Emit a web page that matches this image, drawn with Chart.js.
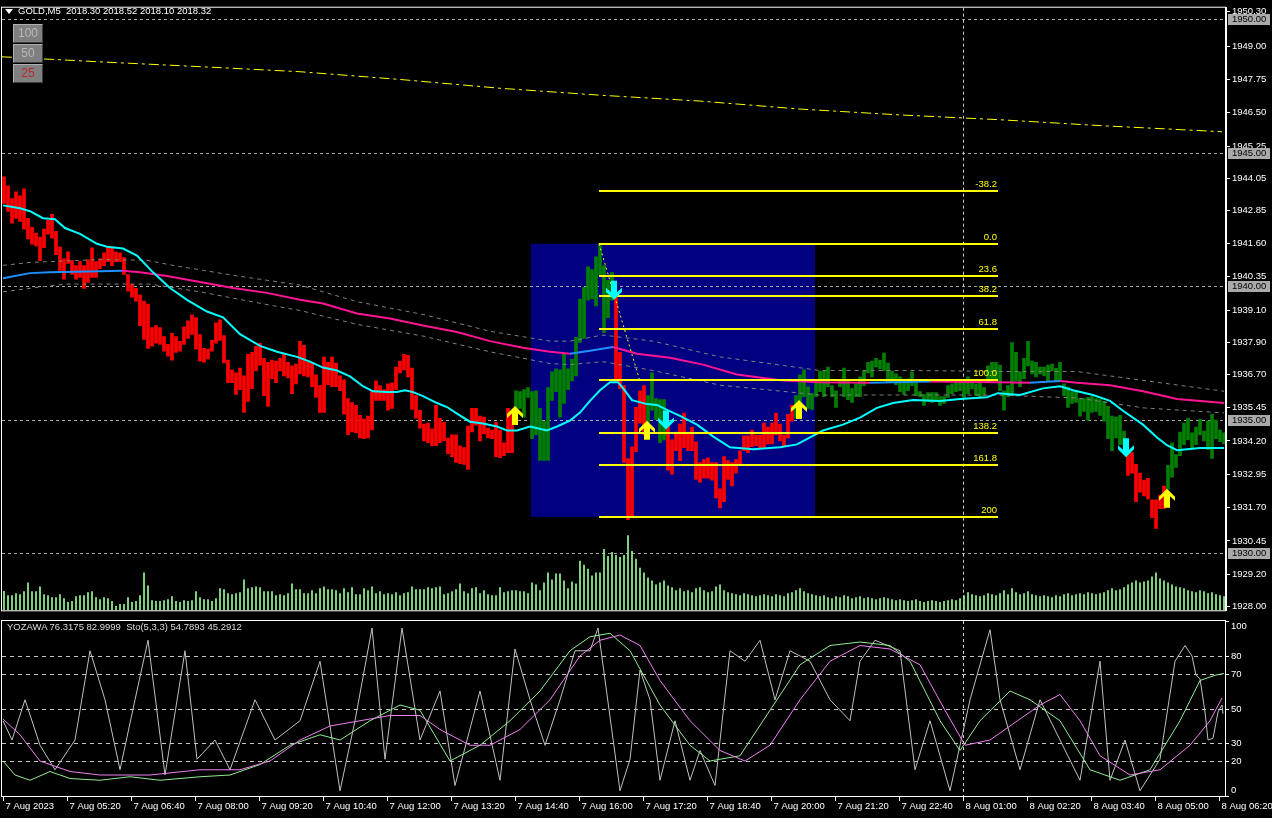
<!DOCTYPE html>
<html lang="en">
<head>
<meta charset="UTF-8">
<title>GOLD,M5</title>
<script src="https://cdn.jsdelivr.net/npm/chart.js"></script>
<style>
  body { margin: 0; background: #000; width: 1272px; height: 818px; overflow: hidden; position: relative; font-family: "Liberation Sans", Arial, sans-serif; }
  canvas { position: absolute; left: 0; }
  #mainChart { top: 0; }
  #oscChart { top: 618px; }
  #title { position: absolute; left: 18px; top: 5px; color: #fff; font-size: 9.5px; line-height: 12px; white-space: pre; }
  #tri { position: absolute; left: 5px; top: 9px; width: 0; height: 0; border-left: 4px solid transparent; border-right: 4px solid transparent; border-top: 5px solid #fff; }
  .btn { position: absolute; left: 13px; width: 28px; height: 17px; background: #808080; border: 1px solid; border-color: #b0b0b0 #404040 #404040 #b0b0b0; color: #b8b8b8; font-size: 12px; line-height: 17px; text-align: center; }
  .btn.red { color: #c02828; }
  #oscTitle { position: absolute; left: 7px; top: 621px; color: #dcdcdc; font-size: 9.5px; line-height: 12px; white-space: pre; }
</style>
</head>
<body>
<canvas id="mainChart" width="1272" height="618"></canvas>
<canvas id="oscChart" width="1272" height="200"></canvas>
<div id="tri"></div>
<div id="title">GOLD,M5  2018.30 2018.52 2018.10 2018.32</div>
<div class="btn" style="top:24px">100</div>
<div class="btn" style="top:44px">50</div>
<div class="btn red" style="top:64px">25</div>
<div id="oscTitle">YOZAWA 76.3175 82.9999  Sto(5,3,3) 54.7893 45.2912</div>

<script>
// ---- data ----
const timeLabels = ['7 Aug 2023', '7 Aug 05:20', '7 Aug 06:40', '7 Aug 08:00', '7 Aug 09:20', '7 Aug 10:40',
    '7 Aug 12:00', '7 Aug 13:20', '7 Aug 14:40', '7 Aug 16:00', '7 Aug 17:20', '7 Aug 18:40', '7 Aug 20:00',
    '7 Aug 21:20', '7 Aug 22:40', '8 Aug 01:00', '8 Aug 02:20', '8 Aug 03:40', '8 Aug 05:00', '8 Aug 06:20'];
const labelStep = 16;   // one time label every 16 bars

const opens = [
    1944.10,1943.76,1943.28,1943.54,1943.39,1943.65,1942.54,1942.21,1941.99,1941.84,
    1942.14,1942.47,1942.69,1942.06,1941.47,1941.03,1941.29,1940.96,1940.77,1940.92,
    1940.77,1940.99,1941.44,1940.92,1941.03,1941.25,1941.47,1941.47,1941.29,1941.25,
    1941.07,1940.44,1940.07,1939.92,1939.67,1939.44,1939.33,1938.45,1938.52,1938.45,
    1938.11,1937.82,1938.23,1938.11,1937.93,1938.48,1938.70,1938.93,1938.82,1938.19,
    1937.67,1937.64,1937.97,1938.63,1938.74,1938.15,1937.23,1936.86,1936.75,1936.93,
    1936.64,1937.45,1937.52,1937.75,1937.86,1937.30,1937.15,1937.23,1937.19,1937.30,
    1937.45,1937.15,1937.01,1937.08,1937.93,1937.78,1937.19,1937.15,1936.68,1936.27,
    1937.34,1937.15,1937.34,1937.12,1936.64,1936.49,1935.79,1935.64,1935.53,1935.16,
    1935.02,1935.13,1936.08,1936.45,1936.27,1936.12,1936.34,1936.38,1936.97,1937.19,
    1937.45,1937.41,1936.93,1935.90,1935.35,1934.83,1934.87,1934.65,1935.53,1935.05,
    1934.90,1934.31,1934.43,1934.43,1934.02,1933.95,1934.76,1935.42,1935.42,1935.13,
    1935.09,1934.68,1934.61,1934.90,1934.61,1934.13,1935.42,1935.24,1935.09,1935.42,
    1935.09,1935.83,1934.28,1934.43,1933.47,1933.47,1933.47,1935.72,1936.05,1935.09,
    1935.61,1936.12,1936.45,1936.64,1937.89,1938.04,1939.48,1939.52,1939.26,1940.40,
    1938.26,1938.82,1939.48,1939.59,1937.52,1936.27,1933.54,1933.98,1935.46,1936.08,
    1936.27,1934.87,1935.35,1935.01,1934.13,1934.24,1934.76,1934.24,1934.53,1934.83,
    1935.24,1934.53,1934.72,1934.17,1933.39,1933.50,1933.57,1933.39,1933.39,1932.40,
    1933.61,1933.46,1933.39,1933.50,1933.83,1934.39,1934.39,1934.61,1934.42,1934.42,
    1934.87,1934.72,1934.87,1935.24,1934.83,1934.42,1935.20,1935.53,1935.05,1935.35,
    1935.86,1935.42,1935.38,1935.86,1936.05,1935.86,1936.23,1935.86,1935.46,1936.23,
    1935.86,1935.75,1935.64,1935.86,1935.86,1936.27,1936.75,1936.60,1936.97,1936.90,
    1936.82,1936.42,1936.38,1936.31,1936.05,1935.94,1936.08,1936.27,1935.90,1935.86,
    1935.53,1935.68,1935.64,1935.68,1935.53,1935.61,1935.83,1935.97,1936.05,1936.08,
    1935.83,1935.97,1936.16,1935.90,1935.86,1935.90,1936.38,1936.42,1936.53,1936.08,
    1935.35,1935.86,1935.90,1936.45,1936.23,1936.53,1937.01,1936.71,1936.60,1936.71,
    1936.64,1936.45,1936.82,1936.42,1936.42,1935.90,1935.46,1935.61,1935.64,1935.13,
    1935.31,1934.98,1935.27,1935.31,1935.16,1934.94,1934.28,1933.83,1934.31,1934.06,
    1934.06,1933.72,1933.76,1933.32,1932.99,1932.73,1932.80,1931.99,1931.99,1932.17,
    1932.51,1932.39,1932.84,1933.21,1933.65,1934.06,1934.24,1933.95,1934.06,1934.42,
    1934.20,1933.87,1933.54,1934.28,1934.17,1934.09
];
const closes = [
    1943.10,1942.80,1942.36,1942.54,1942.43,1942.14,1941.77,1941.58,1941.51,1940.96,
    1941.44,1941.95,1941.80,1941.18,1940.59,1940.26,1940.85,1940.44,1940.26,1940.33,
    1939.92,1940.14,1940.33,1940.33,1940.66,1940.77,1940.92,1940.77,1940.92,1940.92,
    1940.44,1939.81,1939.59,1939.44,1938.52,1938.00,1937.67,1937.75,1937.86,1937.82,
    1937.56,1937.38,1937.23,1937.52,1937.56,1937.82,1938.04,1938.19,1937.64,1937.19,
    1937.15,1937.27,1937.56,1937.86,1937.97,1937.12,1936.38,1936.38,1935.94,1936.12,
    1935.27,1935.68,1936.16,1936.82,1937.04,1935.90,1935.49,1936.53,1936.38,1936.82,
    1936.64,1936.56,1935.97,1936.34,1936.71,1936.64,1936.60,1936.23,1935.83,1935.27,
    1935.27,1936.31,1936.23,1936.23,1936.08,1935.20,1934.43,1934.54,1934.50,1934.31,
    1934.28,1934.31,1934.61,1935.72,1935.72,1935.72,1935.35,1935.42,1936.12,1936.75,
    1936.86,1936.60,1935.38,1935.05,1934.68,1934.20,1934.13,1934.02,1934.02,1934.13,
    1934.20,1933.72,1933.61,1933.39,1933.35,1933.32,1933.13,1934.54,1934.79,1934.20,
    1934.46,1934.31,1934.28,1933.61,1933.57,1933.65,1933.76,1933.76,1936.08,1936.05,
    1936.12,1936.20,1936.05,1936.08,1935.42,1934.94,1936.20,1936.79,1936.90,1936.86,
    1937.45,1936.90,1937.27,1938.08,1939.52,1939.96,1940.73,1940.62,1941.10,1941.58,
    1940.77,1940.22,1940.51,1936.42,1936.16,1933.39,1931.25,1931.36,1933.80,1934.87,
    1934.42,1935.90,1936.75,1935.79,1935.75,1935.75,1933.10,1932.95,1933.83,1933.46,
    1933.95,1933.83,1933.83,1932.76,1932.65,1932.80,1932.80,1932.73,1932.06,1931.69,
    1931.92,1932.76,1932.51,1932.99,1933.32,1933.83,1933.76,1933.98,1934.02,1933.95,
    1933.95,1934.09,1934.09,1934.42,1934.20,1933.98,1934.31,1934.94,1935.90,1936.68,
    1936.86,1936.23,1935.97,1936.42,1936.82,1936.82,1936.97,1936.27,1936.08,1936.45,
    1936.93,1936.45,1936.16,1936.34,1936.60,1936.82,1937.15,1937.19,1937.30,1937.23,
    1937.49,1937.12,1936.82,1936.71,1936.60,1936.42,1936.53,1936.79,1936.42,1936.05,
    1935.94,1936.01,1936.01,1936.01,1935.86,1935.86,1936.27,1936.34,1936.45,1936.42,
    1936.38,1936.60,1936.45,1936.34,1936.38,1936.20,1937.01,1937.15,1937.15,1937.04,
    1936.08,1936.27,1937.89,1937.52,1936.79,1937.30,1937.93,1937.19,1937.15,1936.97,
    1936.97,1937.04,1937.08,1936.93,1937.15,1936.34,1936.23,1936.05,1936.08,1935.79,
    1935.79,1935.83,1935.86,1935.79,1935.75,1935.68,1935.50,1935.13,1935.09,1935.16,
    1934.57,1932.91,1932.99,1931.92,1932.28,1932.14,1932.03,1931.32,1930.92,1931.66,
    1931.66,1933.28,1934.13,1933.69,1934.53,1934.87,1935.05,1934.50,1934.72,1935.01,
    1934.57,1934.94,1935.20,1934.98,1934.61,1934.50
];
const volumes = [
    193,150,150,170,160,190,280,190,190,240,160,150,130,130,160,120,80,90,140,150,
    150,180,190,130,110,130,120,90,40,60,60,130,80,90,150,380,250,100,90,90,
    100,110,140,90,80,100,90,100,190,130,110,110,90,120,220,210,170,160,170,180,
    310,220,230,240,230,190,190,190,150,160,150,170,270,210,210,170,170,200,170,220,
    240,210,210,200,170,220,180,230,160,160,220,200,240,170,190,160,170,160,180,150,
    170,180,240,210,210,210,230,220,230,240,160,170,190,210,270,190,170,220,230,170,
    200,160,150,150,230,180,190,200,200,190,190,170,280,260,200,280,380,310,370,370,
    300,220,290,270,500,460,420,350,380,380,620,550,590,560,540,560,760,600,520,430,
    380,330,300,260,280,300,250,230,200,220,190,200,180,220,230,200,180,190,240,260,
    200,180,170,160,150,170,160,150,140,150,160,150,140,160,150,140,170,180,200,220,
    190,170,160,150,140,150,130,120,140,130,150,140,120,130,140,120,130,120,110,120,
    130,120,110,100,110,100,90,100,110,90,80,90,100,90,80,90,100,110,100,120,
    150,180,160,150,140,150,170,160,150,170,200,160,220,180,160,170,190,160,150,140,
    150,140,130,150,140,160,170,150,160,170,160,180,170,160,170,180,200,220,200,210,
    230,260,280,300,280,290,300,340,380,320,300,280,260,240,230,220,200,190,180,200,
    190,170,180,160,150,140
];

// moving averages, as [bar, price] vertices
const fastMA = [[-0.25,1943.03],[4,1942.92],[6.5,1942.81],[9.75,1942.55],[12.75,1942.51],[15.25,1942.18],[19,1941.96],
    [23.25,1941.59],[25.75,1941.48],[29.75,1941.41],[33.25,1941.15],[37.25,1940.52],[41.5,1939.93],[45.75,1939.49],
    [50.75,1939.05],[54.75,1938.83],[59,1938.20],[64,1937.76],[68.25,1937.54],[73.25,1937.35],[76.5,1937.17],
    [79.75,1936.95],[83.25,1936.84],[86.5,1936.62],[89.75,1936.25],[92.25,1936.06],[95.75,1936.03],[98.25,1936.03],
    [100.25,1936.10],[102.25,1936.03],[104.75,1935.88],[108.25,1935.62],[110.75,1935.47],[113.25,1935.22],
    [116.5,1934.92],[119.75,1934.85],[123.25,1934.74],[125.75,1934.59],[128.25,1934.59],[131.5,1934.74],
    [135.75,1934.59],[138.25,1934.74],[141.5,1934.96],[144,1935.26],[146.5,1935.70],[149,1936.10],[151.5,1936.40],
    [153.5,1936.40],[154.75,1936.18],[157,1935.73],[160.75,1935.58],[163.25,1935.55],[165.75,1935.36],[169,1935.14],
    [173.25,1934.81],[177.25,1934.37],[181.5,1933.96],[187.25,1933.89],[194,1933.96],[198.25,1934.07],[201.5,1934.33],
    [204.75,1934.59],[209.75,1934.81],[214,1935.07],[218.25,1935.44],[222.25,1935.62],[227.25,1935.73],[234,1935.70],
    [239,1935.77],[245.75,1935.84],[248.5,1935.99],[254,1935.92],[259.75,1936.17],[264,1936.25],[267.25,1936.10],
    [272.25,1935.92],[276.5,1935.70],[279.75,1935.33],[284.75,1934.81],[288.25,1934.33],[290.75,1934.04],
    [293.25,1933.85],[299,1933.93],[305,1933.93]];
const slowMA = [[-0.25,1940.30],[6.5,1940.49],[11.5,1940.52],[24,1940.56],[29.5,1940.58],[34,1940.52],[40.75,1940.38],
    [49,1940.16],[57.25,1939.93],[65.75,1939.75],[74,1939.49],[79.75,1939.35],[88.25,1938.98],[96.5,1938.79],
    [104.75,1938.53],[113.25,1938.28],[121.5,1937.94],[129.75,1937.69],[136.5,1937.54],[141.5,1937.47],
    [146.5,1937.58],[152.25,1937.72],[158.25,1937.47],[166.5,1937.32],[174.75,1937.06],[183.25,1936.69],
    [194,1936.47],[204,1936.40],[216.5,1936.38],[231.5,1936.43],[248.25,1936.40],[256.5,1936.38],[264,1936.45],
    [268.25,1936.38],[276.5,1936.29],[284.75,1936.06],[293.25,1935.77],[305,1935.62]];
const envUpper = [[-0.25,1940.78],[6.5,1940.89],[24,1941.00],[35.75,1940.97],[42.25,1940.78],[57.25,1940.41],
    [74,1940.04],[88.25,1939.42],[104.75,1938.94],[121.5,1938.31],[136.5,1937.94],[141.5,1937.94],[149.75,1938.17],
    [162.25,1937.94],[179,1937.35],[204,1936.84],[226.5,1936.84],[251.5,1936.80],[268.25,1936.80],[284.75,1936.47],
    [305,1936.06]];
const envLower = [[-0.25,1939.79],[9,1939.97],[15.75,1940.08],[36.5,1940.08],[49,1939.79],[65.75,1939.31],
    [74,1939.09],[88.25,1938.57],[104.75,1938.13],[121.5,1937.54],[136.5,1937.10],[141.5,1937.06],[149.75,1937.17],
    [162.25,1936.84],[179,1936.29],[204,1935.92],[226.5,1935.92],[248.25,1935.92],[268.25,1935.81],[284.75,1935.44],
    [305,1935.25]];
const longMA = [[-0.5,1948.60],[24,1948.41],[49,1948.23],[74,1948.04],[99,1947.75],[124,1947.42],[149,1947.16],
    [174,1946.94],[199,1946.64],[224,1946.42],[249,1946.24],[274,1946.02],[304.5,1945.79]];

// fibonacci, rectangle, horizontal lines, signals
const fibLevels = ['-38.2', '0.0', '23.6', '38.2', '61.8', '100.0', '138.2', '161.8', '200'];
const fibPrices = [1943.55, 1941.59, 1940.37, 1939.63, 1938.41, 1936.47, 1934.48, 1933.30, 1931.35];
const fibBars = [148.75, 248.5];
const fibTrend = [[148.75, 1941.59], [159, 1936.43]];
const rectBars = [131.75, 202.75];
const rectPrices = [1941.59, 1931.35];
const hLinePrices = [1950, 1945, 1940, 1935, 1930];
const dayBreak = 239.75;
const upArrowBars = [127.75, 160.75, 198.75, 290.75];
const upArrowPrices = [1935.51, 1934.96, 1935.73, 1932.41];
const downArrowBars = [152.5, 165.5, 280.5];
const downArrowPrices = [1939.49, 1934.63, 1933.59];
const priceTicks = [1950.30, 1949.00, 1947.75, 1946.50, 1945.25, 1944.05, 1942.85, 1941.60, 1940.35, 1939.10,
    1937.90, 1936.70, 1935.45, 1934.20, 1932.95, 1931.70, 1930.45, 1929.20, 1928.00];

// oscillator window, [bar, value] vertices
const oscLevels = [100, 80, 70, 50, 30, 20, 0];
const yozawa = [[-0.25,43],[2,32],[5.25,55],[9,29],[12.75,15],[17.75,32],[21.5,83],[25.25,55],[29,15],[32.75,55],
    [36,89],[40.25,12],[45.25,83],[48.25,21],[52.75,32],[56.5,15],[62.75,55],[67.75,32],[74,43],[79,77],[84,3],
    [87.75,43],[92,96],[95.25,21],[99.5,96],[104,32],[109,60],[112.75,6],[119,60],[124,9],[127.75,84],[131.5,55],
    [135.25,29],[139,55],[142.75,83],[146.5,83],[148.5,96],[154,3],[156.5,21],[159,72],[161.5,55],[164,9],[167.75,43],
    [171.5,9],[174,26],[177.75,6],[181.5,83],[185.25,77],[189,89],[192.75,55],[196.5,83],[201.5,77],[206.5,55],
    [211.5,43],[214,77],[217.75,89],[224,83],[227.75,15],[231.5,43],[236.5,3],[241.5,55],[246.5,95],[249,55],
    [254,15],[259,55],[264,32],[269,9],[274,77],[276.5,9],[280.25,32],[284,3],[289,21],[292.75,77],[295.25,86],
    [297,80],[298,69],[299,67],[300.25,48],[301,32],[302.25,33],[303.5,48],[304.5,52],[304.75,47]];
const stochMain = [[-0.25,20],[2.75,12],[6.5,9],[11.5,14],[16.5,10],[24,9],[31.5,11],[39,9],[49,11],[56.5,12],
    [64,18],[71.5,29],[79,35],[84,32],[91.5,43],[99,52],[104,49],[111.5,20],[119,29],[126.5,43],[134,60],[141.5,83],
    [146.5,91],[151.5,93],[156.5,83],[164,52],[171.5,29],[176.5,20],[184,23],[191.5,49],[199,75],[206.5,86],[214,88],
    [221.5,86],[226.5,77],[234,43],[239,26],[244,43],[251.5,60],[256.5,55],[264,43],[271.5,15],[279,9],[286.5,15],
    [294,43],[299,66],[302.75,69],[305,70]];
const stochSignal = [[-0.25,44],[4,35],[9,20],[16.5,14],[24,12],[36.5,12],[49,15],[59,15],[66.5,20],[74,32],
    [81.5,40],[89,43],[96.5,46],[104,46],[109,38],[116.5,29],[121.5,29],[129,38],[136.5,55],[144,80],[149,89],
    [154,92],[159,86],[164,66],[171.5,43],[179,26],[185.25,20],[191.5,29],[199,55],[206.5,77],[214,86],[221.5,84],
    [229,75],[235.25,49],[240.25,29],[246.5,32],[251.5,40],[259,52],[264,58],[269,43],[274,23],[281.5,12],[289,15],
    [296.5,29],[301.5,43],[304.5,56]];

// ---- chart ----
Chart.defaults.font.family = '"Liberation Sans", Arial, sans-serif';
Chart.defaults.font.size = 9.5;
Chart.defaults.color = '#ffffff';

const xMin = -0.5, xMax = opens.length - 0.5;
const pts = arr => arr.map(([x, y]) => ({ x, y }));

function lineSet(points, color, width, dash, order) {
    return { type: 'line', data: pts(points), borderColor: color, borderWidth: width, borderDash: dash || [],
             pointRadius: 0, tension: 0, fill: false, order: order };
}

function drawArrow(ctx, px, py, up, color) {
    const s = up ? 1 : -1;
    const shape = [[0,0],[8,8],[8,12],[3,7.5],[3,19],[-3,19],[-3,7.5],[-8,12],[-8,8]];
    ctx.beginPath();
    shape.forEach(([dx, dy], k) => {
        const X = px + dx, Y = py + s * dy;
        if (k) ctx.lineTo(X, Y); else ctx.moveTo(X, Y);
    });
    ctx.closePath();
    ctx.fillStyle = color;
    ctx.fill();
}

const mainDecor = {
    id: 'mainDecor',
    beforeDatasetsDraw(chart) {
        const { ctx, chartArea: a, scales: { x, y } } = chart;
        ctx.save();
        ctx.beginPath();
        ctx.rect(a.left, a.top, a.right - a.left, a.bottom - a.top);
        ctx.clip();
        // blue rectangle
        const rx1 = x.getPixelForValue(rectBars[0]), rx2 = x.getPixelForValue(rectBars[1]);
        const ry1 = y.getPixelForValue(rectPrices[0]), ry2 = y.getPixelForValue(rectPrices[1]);
        ctx.fillStyle = '#000080';
        ctx.fillRect(rx1, ry1, rx2 - rx1, ry2 - ry1);
        // horizontal lines
        ctx.lineWidth = 1;
        ctx.strokeStyle = '#a8a8a8';
        ctx.setLineDash([3, 3]);
        hLinePrices.forEach(p => {
            const py = Math.round(y.getPixelForValue(p)) + 0.5;
            ctx.beginPath(); ctx.moveTo(a.left, py); ctx.lineTo(a.right, py); ctx.stroke();
        });
        // day separator
        ctx.strokeStyle = '#d0d0d0';
        const sx = Math.round(x.getPixelForValue(dayBreak)) + 0.5;
        ctx.beginPath(); ctx.moveTo(sx, a.top); ctx.lineTo(sx, a.bottom); ctx.stroke();
        ctx.restore();
    },
    afterDatasetsDraw(chart) {
        const { ctx, chartArea: a, scales: { x, y } } = chart;
        ctx.save();
        // fibonacci lines and labels
        const fx1 = x.getPixelForValue(fibBars[0]), fx2 = x.getPixelForValue(fibBars[1]);
        ctx.strokeStyle = '#ffff00';
        ctx.fillStyle = '#ffff00';
        ctx.lineWidth = 2;
        ctx.font = '9.5px "Liberation Sans", Arial, sans-serif';
        ctx.textAlign = 'right';
        ctx.textBaseline = 'bottom';
        fibPrices.forEach((p, k) => {
            const py = Math.round(y.getPixelForValue(p));
            ctx.beginPath(); ctx.moveTo(fx1, py); ctx.lineTo(fx2, py); ctx.stroke();
            ctx.fillText(fibLevels[k], fx2 - 1, py - 2);
        });
        // signal arrows
        upArrowBars.forEach((b, k) => drawArrow(ctx, x.getPixelForValue(b), y.getPixelForValue(upArrowPrices[k]), true, '#ffff00'));
        downArrowBars.forEach((b, k) => drawArrow(ctx, x.getPixelForValue(b), y.getPixelForValue(downArrowPrices[k]), false, '#00ffff'));
        ctx.restore();
    },
    afterDraw(chart) {
        const { ctx, chartArea: a, scales: { y } } = chart;
        ctx.save();
        ctx.strokeStyle = '#ffffff';
        ctx.lineWidth = 1;
        ctx.strokeRect(a.left - 0.5, a.top - 0.5, a.right - a.left, a.bottom - a.top + 1);
        // price labels of the horizontal lines
        ctx.font = '9.5px "Liberation Sans", Arial, sans-serif';
        ctx.textAlign = 'left';
        ctx.textBaseline = 'middle';
        hLinePrices.forEach(p => {
            const py = Math.round(y.getPixelForValue(p));
            ctx.fillStyle = '#a9a9a9';
            ctx.fillRect(a.right + 2, py - 5, 42, 11);
            ctx.fillStyle = '#000000';
            ctx.fillText(p.toFixed(2), a.right + 6, py + 0.5);
        });
        ctx.restore();
    }
};

new Chart(document.getElementById('mainChart'), {
    type: 'bar',
    data: {
        datasets: [
            { type: 'bar', yAxisID: 'v', data: volumes.map((v, i) => ({ x: i, y: v })),
              backgroundColor: '#98fb98', barThickness: 1, grouped: false, order: 10 },
            { type: 'bar', yAxisID: 'y', data: opens.map((o, i) => ({ x: i, y: [o, closes[i]] })),
              backgroundColor: opens.map((o, i) => closes[i] > o ? '#008000' : '#ff0000'),
              barThickness: 3, grouped: false, order: 5 },
            lineSet(envUpper, '#808080', 1, [4, 4], 4),
            lineSet(envLower, '#808080', 1, [4, 4], 4),
            lineSet(longMA, '#ffff00', 1, [10, 4, 3, 4], 4),
            Object.assign(lineSet(slowMA, '#ff1493', 2, [], 3), {
                segment: { borderColor: c => c.p1.parsed.y > c.p0.parsed.y ? '#1e90ff' : '#ff1493' } }),
            lineSet(fastMA, '#00ffff', 2, [], 2),
            lineSet(fibTrend, '#ffff00', 1, [2, 3], 1)
        ]
    },
    options: {
        responsive: false,
        animation: false,
        devicePixelRatio: 1,
        layout: { padding: { left: 2, top: 3, right: 0, bottom: 2 } },
        plugins: { legend: { display: false }, tooltip: { enabled: false } },
        scales: {
            x: { type: 'linear', min: xMin, max: xMax, offset: false, display: false },
            y: {
                position: 'right', min: 1927.85, max: 1950.44,
                afterFit: s => { s.width = 46; },
                afterBuildTicks: s => { s.ticks = priceTicks.map(v => ({ value: v })); },
                ticks: { color: '#ffffff', padding: 2, autoSkip: false, callback: v => Number(v).toFixed(2) },
                grid: { drawOnChartArea: false, color: '#ffffff', tickLength: 4 },
                border: { color: '#ffffff' }
            },
            v: { display: false, min: 0, max: 6130 }
        }
    },
    plugins: [mainDecor]
});

const oscDecor = {
    id: 'oscDecor',
    beforeDatasetsDraw(chart) {
        const { ctx, chartArea: a, scales: { x, y } } = chart;
        ctx.save();
        ctx.lineWidth = 1;
        ctx.strokeStyle = '#c8c8c8';
        ctx.setLineDash([4, 4]);
        oscLevels.filter(v => v > 0 && v < 100).forEach(v => {
            const py = Math.round(y.getPixelForValue(v)) + 0.5;
            ctx.beginPath(); ctx.moveTo(a.left, py); ctx.lineTo(a.right, py); ctx.stroke();
        });
        ctx.setLineDash([3, 3]);
        ctx.strokeStyle = '#d0d0d0';
        const sx = Math.round(x.getPixelForValue(dayBreak)) + 0.5;
        ctx.beginPath(); ctx.moveTo(sx, a.top); ctx.lineTo(sx, a.bottom); ctx.stroke();
        ctx.restore();
    },
    afterDraw(chart) {
        const { ctx, chartArea: a, scales: { x, y } } = chart;
        ctx.save();
        ctx.strokeStyle = '#ffffff';
        ctx.lineWidth = 1;
        ctx.strokeRect(a.left - 0.5, a.top - 0.5, a.right - a.left, a.bottom - a.top + 1);
        ctx.fillStyle = '#ffffff';
        ctx.font = '9.5px "Liberation Sans", Arial, sans-serif';
        // level labels on the right
        ctx.textAlign = 'left';
        ctx.textBaseline = 'middle';
        oscLevels.forEach(v => {
            const py = Math.round(y.getPixelForValue(v));
            ctx.beginPath(); ctx.moveTo(a.right, py + 0.5); ctx.lineTo(a.right + 3, py + 0.5); ctx.stroke();
            const ty = Math.min(Math.max(py, a.top + 5), a.bottom - 6);
            ctx.fillText(String(v), a.right + 5, ty);
        });
        // time axis
        ctx.textBaseline = 'top';
        timeLabels.forEach((t, k) => {
            const px = Math.round(x.getPixelForValue(k * labelStep)) - 0.5;
            ctx.beginPath(); ctx.moveTo(px, a.bottom + 1); ctx.lineTo(px, a.bottom + 5); ctx.stroke();
            ctx.fillText(t, px + 2, a.bottom + 6);
        });
        ctx.restore();
    }
};

new Chart(document.getElementById('oscChart'), {
    type: 'line',
    data: {
        datasets: [
            lineSet(yozawa, '#c0c0c0', 1, [], 3),
            lineSet(stochMain, '#90ee90', 1, [], 2),
            lineSet(stochSignal, '#ee82ee', 1, [], 1)
        ]
    },
    options: {
        responsive: false,
        animation: false,
        devicePixelRatio: 1,
        layout: { padding: { left: 2, top: 3, right: 46, bottom: 22 } },
        plugins: { legend: { display: false }, tooltip: { enabled: false } },
        scales: {
            x: { type: 'linear', min: xMin, max: xMax, display: false },
            y: { min: 0, max: 100, display: false }
        }
    },
    plugins: [oscDecor]
});
</script>
</body>
</html>
